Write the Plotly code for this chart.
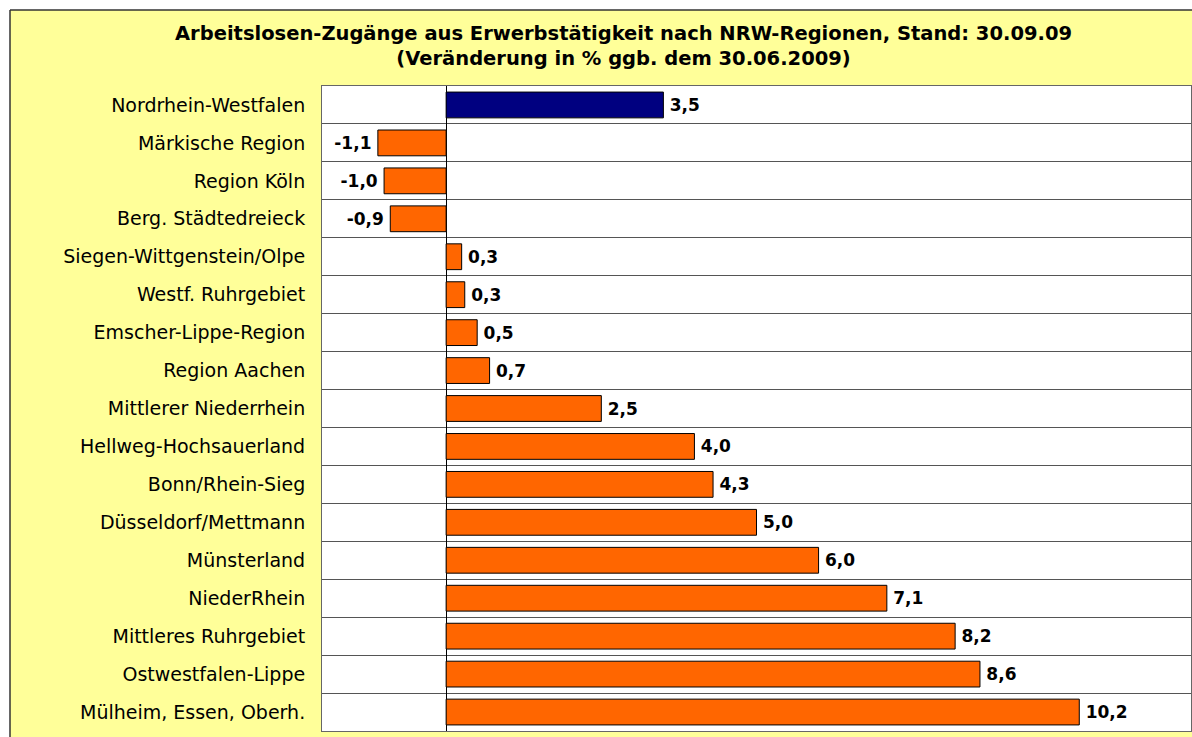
import plotly.graph_objects as go

regions = ["Nordrhein-Westfalen", "Märkische Region", "Region Köln", "Berg. Städtedreieck",
           "Siegen-Wittgenstein/Olpe", "Westf. Ruhrgebiet", "Emscher-Lippe-Region",
           "Region Aachen", "Mittlerer Niederrhein", "Hellweg-Hochsauerland",
           "Bonn/Rhein-Sieg", "Düsseldorf/Mettmann", "Münsterland", "NiederRhein",
           "Mittleres Ruhrgebiet", "Ostwestfalen-Lippe", "Mülheim, Essen, Oberh."]
values = [3.5, -1.1, -1.0, -0.9, 0.25, 0.3, 0.5, 0.7, 2.5, 4.0, 4.3, 5.0, 6.0, 7.1, 8.2, 8.6, 10.2]
labels = ["3,5", "-1,1", "-1,0", "-0,9", "0,3", "0,3", "0,5", "0,7", "2,5", "4,0", "4,3",
          "5,0", "6,0", "7,1", "8,2", "8,6", "10,2"]
title_lines = ["Arbeitslosen-Zugänge aus Erwerbstätigkeit nach NRW-Regionen, Stand: 30.09.09",
               "(Veränderung in % ggb. dem 30.06.2009)"]

colors = ["#000080"] + ["#FF6600"] * (len(regions) - 1)
FONT = "DejaVu Sans"

# pad value labels slightly away from the bar ends (thin space)
padded = [("\u2009" + t) if v >= 0 else (t + "\u2009") for t, v in zip(labels, values)]

fig = go.Figure(go.Bar(
    y=regions, x=values, orientation="h",
    marker=dict(color=colors, line=dict(color="#000000", width=1)),
    text=padded, textposition="outside", cliponaxis=False,
    textfont=dict(family=FONT, size=17, color="#000000", weight="bold"),
    width=0.68,
))

W, H = 1192, 737
ml, mr, mt, mb = 322, 1, 86, 6
pw, ph = W - ml - mr, H - mt - mb

def px(x):
    return (x - ml) / pw

def py(y):
    return (H - mb - y) / ph

shapes = [
    dict(type="rect", xref="paper", yref="paper", x0=px(-5), x1=px(W + 5), y0=py(10), y1=py(-5),
         fillcolor="white", line=dict(width=0), layer="below"),
    dict(type="rect", xref="paper", yref="paper", x0=px(-5), x1=px(10), y0=py(H + 5), y1=py(-5),
         fillcolor="white", line=dict(width=0), layer="below"),
    dict(type="line", xref="paper", yref="paper", x0=px(10), x1=px(W + 5), y0=py(10), y1=py(10),
         line=dict(color="#333333", width=1.5)),
    dict(type="line", xref="paper", yref="paper", x0=px(10), x1=px(10), y0=py(10), y1=py(H + 5),
         line=dict(color="#333333", width=1.5)),
]

fig.update_layout(
    width=W, height=H,
    margin=dict(l=ml, r=mr, t=mt, b=mb),
    paper_bgcolor="#FFFF99", plot_bgcolor="white",
    showlegend=False,
    shapes=shapes,
    font=dict(family=FONT, color="#000000"),
    annotations=[
        dict(text="<b>" + title_lines[0] + "<br>" + title_lines[1] + "</b>", xref="paper", yref="paper",
             x=px(623), y=py(46), xanchor="center", yanchor="middle", showarrow=False,
             font=dict(family=FONT, size=19.5, color="#000000")),
    ],
    xaxis=dict(range=[-2, 12], showticklabels=False, showgrid=False, ticks="",
               zeroline=True, zerolinecolor="#000000", zerolinewidth=1,
               showline=True, linecolor="#666666", linewidth=1, mirror=True),
    yaxis=dict(type="category", autorange="reversed", tickson="boundaries",
               showgrid=True, gridcolor="#555555", gridwidth=1,
               showline=True, linecolor="#666666", linewidth=1, mirror=True,
               ticks="", ticklabelstandoff=12,
               tickfont=dict(family=FONT, size=19, color="#000000")),
)

fig.write_html("out.html", config={"displayModeBar": False},
               post_script="document.body.style.margin='0px';document.body.style.overflow='hidden';")
